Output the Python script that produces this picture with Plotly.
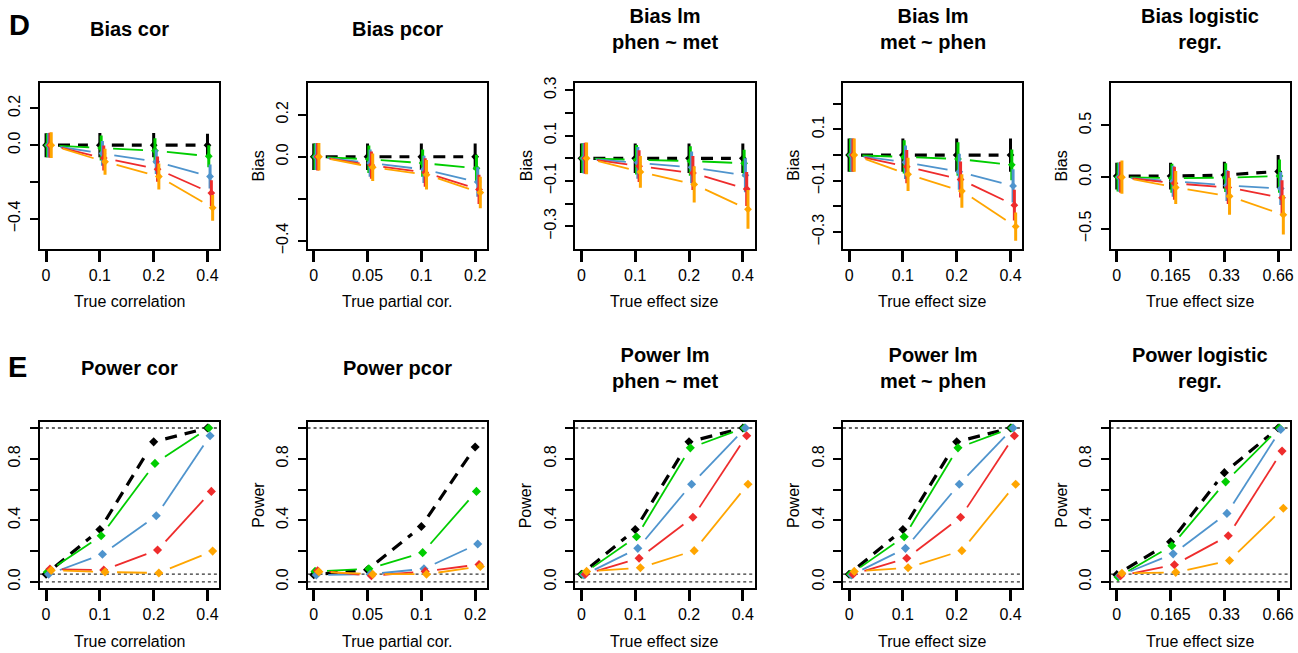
import math
import plotly.graph_objects as go

W, H = 1298, 653
FONT = "Liberation Sans, Arial, sans-serif"

# ---------------- data ----------------
series_names = ["black", "green", "blue", "red", "orange"]
series_colors = {"black": "#000000", "green": "#00CD00", "blue": "#4F94CD",
                 "red": "#EE2C2C", "orange": "#FFA500"}

xlab_cor = ["0", "0.1", "0.2", "0.4"]
xlab_pcor = ["0", "0.05", "0.1", "0.2"]
xlab_lm = ["0", "0.1", "0.2", "0.4"]
xlab_log = ["0", "0.165", "0.33", "0.66"]

# Bias panels: means and error half-widths
bias_cor = {"black": [0.0, 0.0, 0.0, 0.0], "green": [0.0, -0.015, -0.03, -0.06],
            "blue": [0.0, -0.045, -0.09, -0.17], "red": [0.0, -0.07, -0.13, -0.26],
            "orange": [0.0, -0.09, -0.17, -0.34]}
bias_cor_err = {"black": [0.065, 0.066, 0.066, 0.062], "green": [0.065, 0.068, 0.068, 0.06],
                "blue": [0.066, 0.067, 0.067, 0.065], "red": [0.068, 0.068, 0.068, 0.07],
                "orange": [0.07, 0.07, 0.07, 0.07]}

bias_pcor = {"black": [0.0, 0.0, 0.0, 0.0], "green": [0.0, -0.012, -0.03, -0.055],
             "blue": [0.0, -0.03, -0.06, -0.12], "red": [0.0, -0.04, -0.075, -0.155],
             "orange": [0.0, -0.05, -0.085, -0.17]}
bias_pcor_err = {"black": [0.063, 0.063, 0.063, 0.063], "green": [0.063, 0.065, 0.065, 0.065],
                 "blue": [0.063, 0.065, 0.065, 0.07], "red": [0.065, 0.065, 0.068, 0.07],
                 "orange": [0.065, 0.065, 0.07, 0.075]}

bias_lm1 = {"black": [0.0, 0.0, 0.0, 0.0], "green": [0.0, -0.007, -0.012, -0.022],
            "blue": [0.0, -0.02, -0.04, -0.075], "red": [0.0, -0.035, -0.065, -0.135],
            "orange": [0.0, -0.06, -0.115, -0.225]}
bias_lm1_err = {"black": [0.065, 0.065, 0.065, 0.065], "green": [0.065, 0.065, 0.065, 0.06],
                "blue": [0.067, 0.07, 0.07, 0.075], "red": [0.068, 0.07, 0.075, 0.075],
                "orange": [0.07, 0.07, 0.08, 0.085]}

bias_lm2 = {"black": [0.0, 0.0, 0.0, 0.0], "green": [0.0, -0.007, -0.015, -0.038],
            "blue": [0.0, -0.028, -0.065, -0.12], "red": [0.0, -0.045, -0.095, -0.195],
            "orange": [0.0, -0.075, -0.14, -0.278]}
bias_lm2_err = {"black": [0.065, 0.065, 0.065, 0.065], "green": [0.065, 0.065, 0.065, 0.06],
                "blue": [0.065, 0.065, 0.07, 0.065], "red": [0.065, 0.065, 0.07, 0.06],
                "orange": [0.065, 0.065, 0.065, 0.055]}

bias_log = {"black": [0.01, 0.01, 0.02, 0.055], "green": [0.0, -0.01, -0.005, 0.01],
            "blue": [0.0, -0.04, -0.08, -0.11], "red": [0.0, -0.06, -0.1, -0.2],
            "orange": [0.0, -0.1, -0.185, -0.365]}
bias_log_err = {"black": [0.13, 0.13, 0.13, 0.16], "green": [0.14, 0.14, 0.14, 0.16],
                "blue": [0.14, 0.15, 0.15, 0.16], "red": [0.15, 0.16, 0.16, 0.17],
                "orange": [0.16, 0.16, 0.18, 0.19]}

# Power panels
power_cor = {"black": [0.05, 0.34, 0.91, 1.0], "green": [0.064, 0.30, 0.77, 1.0],
             "blue": [0.05, 0.18, 0.43, 0.95], "red": [0.083, 0.077, 0.207, 0.588],
             "orange": [0.075, 0.064, 0.058, 0.20]}
power_pcor = {"black": [0.047, 0.079, 0.36, 0.877], "green": [0.068, 0.085, 0.19, 0.588],
              "blue": [0.045, 0.05, 0.085, 0.246], "red": [0.072, 0.04, 0.068, 0.113],
              "orange": [0.066, 0.05, 0.05, 0.10]}
power_lm1 = {"black": [0.05, 0.34, 0.91, 1.0], "green": [0.05, 0.293, 0.871, 1.0],
             "blue": [0.045, 0.218, 0.635, 1.0], "red": [0.05, 0.154, 0.42, 0.95],
             "orange": [0.068, 0.092, 0.203, 0.635]}
power_lm2 = {"black": [0.05, 0.34, 0.91, 1.0], "green": [0.05, 0.293, 0.871, 1.0],
             "blue": [0.045, 0.218, 0.635, 1.0], "red": [0.05, 0.154, 0.42, 0.95],
             "orange": [0.068, 0.092, 0.203, 0.635]}
power_log = {"black": [0.047, 0.26, 0.71, 1.0], "green": [0.032, 0.235, 0.65, 1.0],
             "blue": [0.04, 0.182, 0.445, 0.99], "red": [0.04, 0.111, 0.30, 0.85],
             "orange": [0.056, 0.062, 0.139, 0.479]}
power_ref_lines = [1.0, 0.05, 0.0]

titles_bias = ["Bias cor", "Bias pcor", "Bias lm<br>phen ~ met", "Bias lm<br>met ~ phen",
               "Bias logistic<br>regr."]
titles_power = ["Power cor", "Power pcor", "Power lm<br>phen ~ met", "Power lm<br>met ~ phen",
                "Power logistic<br>regr."]
xtitles = ["True correlation", "True partial cor.", "True effect size", "True effect size",
           "True effect size"]
xlabels = [xlab_cor, xlab_pcor, xlab_lm, xlab_lm, xlab_log]

bias_panels = [(bias_cor, bias_cor_err), (bias_pcor, bias_pcor_err), (bias_lm1, bias_lm1_err),
               (bias_lm2, bias_lm2_err), (bias_log, bias_log_err)]
power_panels = [power_cor, power_pcor, power_lm1, power_lm2, power_log]

bias_yranges = [(-0.5625, 0.339), (-0.4375, 0.352), (-0.399, 0.333), (-0.365, 0.282), (-0.694, 0.914)]
bias_yticks = [
    ([-0.4, -0.2, 0.0, 0.2], ["\u22120.4", "", "0.0", "0.2"]),
    ([-0.4, -0.2, 0.0, 0.2], ["\u22120.4", "", "0.0", "0.2"]),
    ([-0.3, -0.2, -0.1, 0.0, 0.1, 0.2, 0.3], ["\u22120.3", "", "\u22120.1", "", "0.1", "", "0.3"]),
    ([-0.3, -0.2, -0.1, 0.0, 0.1, 0.2], ["\u22120.3", "", "\u22120.1", "", "0.1", ""]),
    ([-0.5, 0.0, 0.5], ["\u22120.5", "0.0", "0.5"]),
]
power_yrange = (-0.04, 1.04)
power_yticks = ([0.0, 0.2, 0.4, 0.6, 0.8, 1.0], ["0.0", "", "0.4", "", "0.8", ""])

# ---------------- layout geometry ----------------
XR = (0.885, 4.22)
BOX_W, BOX_H = 180, 169
COL_LEFT = [40 + 268.5 * i for i in range(5)]
ROW_TOP = [78, 423]
OFFSET = 0.024
GAP = 12
TICKFONT = 16

fig = go.Figure()
layout = dict(width=W, height=H, margin=dict(l=0, r=0, t=0, b=0),
              paper_bgcolor="white", plot_bgcolor="white", showlegend=False,
              font=dict(family=FONT, color="black"))
annotations = []
shapes = []


def gapped(xs, ys, xpx, ypx, g):
    X, Y = [], []
    for i in range(len(xs) - 1):
        dx = (xs[i + 1] - xs[i]) * xpx
        dy = (ys[i + 1] - ys[i]) * ypx
        d = math.hypot(dx, dy)
        if d <= 2 * g:
            continue
        f = g / d
        X += [xs[i] + (xs[i + 1] - xs[i]) * f, xs[i + 1] - (xs[i + 1] - xs[i]) * f, None]
        Y += [ys[i] + (ys[i + 1] - ys[i]) * f, ys[i + 1] - (ys[i + 1] - ys[i]) * f, None]
    return X, Y


def py(pix):
    return 1 - pix / H


def px(pix):
    return pix / W


for row in range(2):
    for col in range(5):
        n = row * 5 + col + 1
        xa = "xaxis" if n == 1 else f"xaxis{n}"
        ya = "yaxis" if n == 1 else f"yaxis{n}"
        xr = "x" if n == 1 else f"x{n}"
        yr = "y" if n == 1 else f"y{n}"
        left = COL_LEFT[col]
        top = ROW_TOP[row]
        if row == 0:
            yrange = bias_yranges[col]
            tv, tt = bias_yticks[col]
        else:
            yrange = power_yrange
            tv, tt = power_yticks
        layout[xa] = dict(domain=[px(left), px(left + BOX_W)], anchor=yr, range=list(XR),
                          tickvals=[1, 2, 3, 4], ticktext=xlabels[col],
                          showline=True, mirror=True, linecolor="black", linewidth=2,
                          ticks="outside", ticklen=11, tickwidth=2.5, tickcolor="black",
                          showgrid=False, zeroline=False, ticklabelstandoff=0,
                          tickfont=dict(size=TICKFONT, family=FONT, color="black"), fixedrange=True)
        layout[ya] = dict(domain=[py(top + BOX_H), py(top)], anchor=xr, range=list(yrange),
                          tickvals=tv, ticktext=tt, tickangle=-90,
                          showline=True, mirror=True, linecolor="black", linewidth=2,
                          ticks="outside", ticklen=8, tickwidth=2, tickcolor="black",
                          showgrid=False, zeroline=False, ticklabelstandoff=3,
                          tickfont=dict(size=TICKFONT, family=FONT, color="black"), fixedrange=True)
        xpx = BOX_W / (XR[1] - XR[0])
        ypx = BOX_H / (yrange[1] - yrange[0])

        if row == 0:
            means, errs = bias_panels[col]
        else:
            means, errs = power_panels[col], None
            for v in power_ref_lines:
                shapes.append(dict(type="line", xref=f"{xr} domain", x0=0, x1=1, yref=yr, y0=v, y1=v,
                                   line=dict(color="#333333", width=1.3, dash="dot"), layer="below"))

        for k, s in enumerate(series_names):
            xs = [i + 1 + k * OFFSET for i in range(4)]
            ys = means[s]
            col_c = series_colors[s]
            lx, ly = gapped(xs, ys, xpx, ypx, GAP)
            if s == "black":
                line = dict(color="black", width=3.2, dash="12px,8px")
            else:
                line = dict(color=col_c, width=1.8)
            fig.add_trace(go.Scatter(x=lx, y=ly, mode="lines", line=line, xaxis=xr, yaxis=yr,
                                     hoverinfo="skip"))
            mk = dict(symbol="diamond", size=7 if row == 1 else 6, color=col_c, line=dict(width=0))
            tr = dict(x=xs, y=ys, mode="markers", marker=mk, xaxis=xr, yaxis=yr)
            if errs is not None:
                tr["error_y"] = dict(type="data", array=errs[s], symmetric=True, thickness=3,
                                     width=0, color=col_c)
            fig.add_trace(go.Scatter(**tr))

        # titles
        tcenter = top - 55
        annotations.append(dict(text="<b>" + (titles_bias if row == 0 else titles_power)[col] + "</b>",
                                xref="paper", yref="paper", x=px(left + BOX_W / 2), y=py(tcenter),
                                xanchor="center", yanchor="middle", showarrow=False,
                                font=dict(size=20, family=FONT, color="black")))
        annotations.append(dict(text=xtitles[col], xref="paper", yref="paper",
                                x=px(left + BOX_W / 2), y=py(top + BOX_H + 54),
                                xanchor="center", yanchor="middle", showarrow=False,
                                font=dict(size=TICKFONT, family=FONT, color="black")))
        if col > 0:
            annotations.append(dict(text="Bias" if row == 0 else "Power", xref="paper", yref="paper",
                                    x=px(left - 49), y=py(top + BOX_H / 2), textangle=-90,
                                    xanchor="center", yanchor="middle", showarrow=False,
                                    font=dict(size=TICKFONT, family=FONT, color="black")))

annotations.append(dict(text="<b>D</b>", xref="paper", yref="paper", x=px(20), y=py(19),
                        xanchor="center", yanchor="middle", showarrow=False,
                        font=dict(size=29, family=FONT, color="black")))
annotations.append(dict(text="<b>E</b>", xref="paper", yref="paper", x=px(18), y=py(367),
                        xanchor="center", yanchor="middle", showarrow=False,
                        font=dict(size=29, family=FONT, color="black")))

layout["annotations"] = annotations
layout["shapes"] = shapes
fig.update_layout(**layout)
fig.write_html("out.html", config={"displayModeBar": False},
               post_script="document.body.style.margin='0';document.body.style.overflow='hidden';")
